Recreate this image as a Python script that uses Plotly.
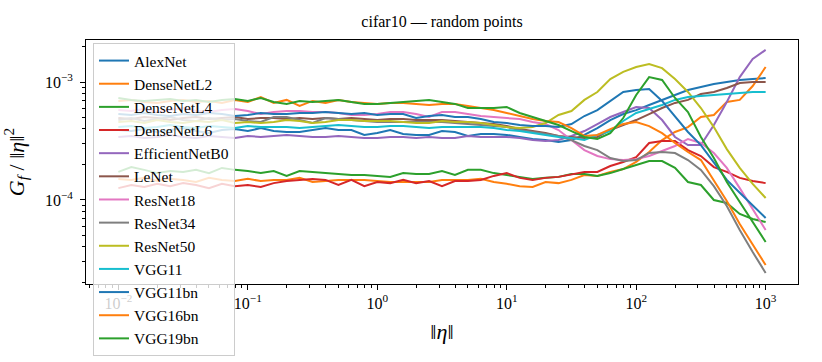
import plotly.graph_objects as go

# ---- data (values of G_f/||eta||^2 in units of 1e-4) ----
UNIT = 1e-4

ETA = [0.01, 0.01259, 0.01585, 0.01995, 0.02512, 0.03162, 0.03981, 0.05012, 0.0631, 0.07943,
       0.1, 0.1259, 0.1585, 0.1995, 0.2512, 0.3162, 0.3981, 0.5012, 0.631, 0.7943,
       1.0, 1.259, 1.585, 1.995, 2.512, 3.162, 3.981, 5.012, 6.31, 7.943,
       10.0, 12.59, 15.85, 19.95, 25.12, 31.62, 39.81, 50.12, 63.1, 79.43,
       100.0, 125.9, 158.5, 199.5, 251.2, 316.2, 398.1, 501.2, 631.0, 794.3, 1000.0]

ALEXNET = [3.92, 3.84, 3.99, 3.77, 3.92, 4.07, 3.84, 3.69, 3.92, 3.99,
           3.84, 4.07, 3.84, 3.77, 3.77, 3.92, 4.07, 3.92, 3.92, 3.56,
           3.69, 3.92, 3.62, 3.56, 3.56, 3.84, 3.77, 3.49, 3.62, 3.62,
           3.56, 3.42, 3.29, 3.22, 3.10, 3.22, 3.56, 4.07, 4.76, 5.35,
           5.78, 6.38, 7.05, 7.76, 8.55, 9.07, 9.62, 10.0, 10.4, 10.6, 10.8]
DENSENET_L2 = [1.51, 1.48, 1.54, 1.45, 1.51, 1.48, 1.42, 1.54, 1.48, 1.45,
               1.51, 1.45, 1.48, 1.48, 1.54, 1.42, 1.45, 1.48, 1.48, 1.48,
               1.45, 1.42, 1.42, 1.42, 1.42, 1.48, 1.48, 1.48, 1.51, 1.42,
               1.37, 1.31, 1.29, 1.42, 1.39, 1.48, 1.63, 1.60, 1.73, 1.83,
               2.10, 2.55, 3.22, 3.77, 4.15, 5.05, 5.25, 6.78, 7.05, 9.25, 13.4]
DENSENET_L4 = [1.73, 1.90, 1.80, 1.69, 1.76, 1.73, 1.80, 1.69, 1.87, 1.80,
               1.76, 1.69, 1.76, 1.60, 1.76, 1.73, 1.69, 1.66, 1.63, 1.63,
               1.60, 1.57, 1.69, 1.66, 1.66, 1.76, 1.63, 1.80, 1.80, 1.69,
               1.63, 1.57, 1.51, 1.54, 1.57, 1.66, 1.66, 1.60, 1.69, 1.83,
               1.98, 2.14, 2.14, 1.87, 1.42, 1.34, 1.00, 0.943, 0.761, 0.690, 0.651]
DENSENET_L6 = [1.26, 1.34, 1.29, 1.37, 1.31, 1.39, 1.34, 1.26, 1.37, 1.31,
               1.34, 1.29, 1.39, 1.45, 1.48, 1.51, 1.48, 1.34, 1.48, 1.31,
               1.42, 1.39, 1.48, 1.39, 1.45, 1.31, 1.45, 1.45, 1.48, 1.60,
               1.69, 1.54, 1.48, 1.54, 1.57, 1.66, 1.73, 1.73, 1.94, 2.10,
               2.31, 3.04, 3.16, 3.16, 2.65, 2.36, 1.90, 1.73, 1.54, 1.45, 1.39]
EFFICIENTNET_B0 = [3.42, 3.49, 3.36, 3.42, 3.56, 3.42, 3.36, 3.49, 3.42, 3.36,
                   3.49, 3.42, 3.49, 3.56, 3.49, 3.42, 3.42, 3.49, 3.42, 3.36,
                   3.36, 3.42, 3.42, 3.36, 3.42, 3.36, 3.36, 3.49, 3.42, 3.42,
                   3.42, 3.36, 3.22, 3.16, 3.22, 3.49, 3.84, 4.40, 5.05, 5.57,
                   6.14, 6.02, 4.76, 3.42, 2.92, 2.92, 4.32, 6.78, 11.0, 15.7, 18.7]
LENET = [4.95, 4.85, 5.05, 4.95, 4.76, 4.95, 5.05, 4.85, 4.95, 5.05,
         4.85, 4.95, 4.95, 4.85, 4.95, 4.85, 4.95, 4.85, 4.95, 4.85,
         4.76, 4.85, 4.85, 4.76, 4.76, 4.76, 4.67, 4.58, 4.49, 4.40,
         4.23, 3.99, 3.84, 3.69, 3.49, 3.42, 3.36, 3.42, 3.92, 4.32,
         4.76, 5.35, 6.02, 6.65, 7.05, 7.92, 8.23, 8.89, 9.81, 10.0, 10.0]
RESNET18 = [5.78, 5.67, 5.90, 5.57, 5.78, 6.02, 5.67, 5.57, 5.78, 5.90,
            5.67, 5.35, 5.57, 5.67, 5.67, 5.57, 5.57, 5.46, 5.25, 5.25,
            5.35, 5.57, 5.57, 5.35, 5.05, 5.57, 5.57, 5.35, 5.15, 5.05,
            4.95, 4.85, 4.58, 4.40, 3.92, 3.22, 2.65, 2.36, 2.22, 2.18,
            2.22, 2.36, 2.60, 2.87, 3.29, 3.04, 2.50, 1.87, 1.26, 0.839, 0.557]
RESNET34 = [4.76, 4.95, 4.67, 4.85, 5.05, 4.76, 4.67, 4.95, 4.76, 4.85,
            4.67, 4.58, 5.05, 5.05, 4.76, 4.49, 4.95, 4.85, 4.76, 4.67,
            4.58, 4.58, 4.58, 4.58, 4.58, 4.58, 4.49, 4.40, 4.32, 4.23,
            4.15, 3.92, 3.77, 3.62, 3.49, 3.22, 2.87, 2.65, 2.27, 2.14,
            2.18, 2.50, 2.55, 2.50, 2.18, 1.80, 1.31, 0.89, 0.557, 0.362, 0.241]
RESNET50 = [4.58, 4.67, 4.49, 4.76, 4.58, 4.49, 4.67, 4.58, 4.76, 4.49,
            4.58, 4.49, 4.58, 4.76, 4.67, 4.49, 4.58, 4.76, 4.76, 4.67,
            4.67, 4.67, 4.58, 4.49, 4.49, 4.67, 4.58, 4.58, 4.49, 4.32,
            4.15, 4.07, 4.15, 4.49, 5.25, 5.67, 7.05, 8.23, 10.6, 12.2,
            13.4, 14.2, 13.1, 10.6, 8.23, 6.02, 4.15, 2.70, 1.87, 1.37, 1.04]
VGG11 = [4.15, 4.23, 4.07, 4.15, 4.32, 4.15, 4.07, 4.23, 4.15, 4.07,
         4.23, 4.15, 4.15, 4.15, 4.07, 4.15, 4.23, 4.32, 4.23, 4.15,
         4.15, 4.23, 4.23, 4.15, 4.07, 4.15, 4.15, 4.15, 4.15, 4.07,
         3.92, 3.84, 3.69, 3.56, 3.42, 3.36, 3.22, 3.56, 3.84, 4.67,
         5.46, 5.90, 6.38, 7.05, 7.46, 7.61, 7.76, 7.91, 8.07, 8.23, 8.23]
VGG11BN = [5.35, 5.25, 5.46, 5.25, 5.15, 5.35, 5.25, 5.46, 5.35, 5.15,
           5.25, 5.46, 5.35, 5.35, 5.46, 5.46, 5.57, 5.46, 5.35, 5.46,
           5.25, 5.35, 5.35, 4.95, 5.15, 5.25, 5.05, 5.05, 4.85, 4.58,
           4.49, 4.32, 4.23, 4.23, 4.15, 4.40, 5.15, 5.78, 6.91, 8.23,
           8.55, 8.72, 6.91, 5.05, 3.77, 2.92, 2.06, 1.48, 1.15, 0.907, 0.704]
VGG16BN = [6.91, 7.05, 6.78, 6.65, 6.91, 7.05, 6.78, 6.91, 6.65, 7.05,
           6.78, 7.46, 6.65, 7.05, 6.26, 6.91, 6.65, 7.05, 6.78, 6.65,
           6.52, 6.65, 6.65, 6.52, 6.38, 6.52, 6.52, 6.26, 6.02, 5.78,
           5.46, 5.15, 4.85, 4.67, 4.58, 4.07, 3.49, 3.56, 3.99, 4.40,
           4.58, 4.23, 3.69, 3.04, 2.55, 2.18, 1.45, 0.98, 0.626, 0.416, 0.281]
VGG19BN = [7.32, 7.05, 6.91, 7.05, 7.18, 6.91, 7.05, 6.78, 7.05, 7.18,
           6.91, 7.32, 6.78, 6.52, 6.91, 6.78, 6.91, 7.05, 6.78, 6.52,
           6.52, 6.65, 6.78, 6.91, 7.05, 6.78, 6.52, 6.02, 6.02, 6.02,
           6.14, 5.46, 5.05, 4.67, 4.32, 3.84, 3.42, 3.29, 3.69, 4.95,
           7.76, 11.0, 10.4, 7.32, 5.57, 3.42, 2.27, 1.42, 0.962, 0.651, 0.441]

MODELS = ["AlexNet", "DenseNetL2", "DenseNetL4", "DenseNetL6", "EfficientNetB0", "LeNet",
          "ResNet18", "ResNet34", "ResNet50", "VGG11", "VGG11bn", "VGG16bn", "VGG19bn"]
SERIES = [ALEXNET, DENSENET_L2, DENSENET_L4, DENSENET_L6, EFFICIENTNET_B0, LENET,
          RESNET18, RESNET34, RESNET50, VGG11, VGG11BN, VGG16BN, VGG19BN]

X_TICKS = [0.01, 0.1, 1, 10, 100, 1000]
X_TICK_TEXT = ["10<sup>−2</sup>", "10<sup>−1</sup>", "10<sup>0</sup>",
               "10<sup>1</sup>", "10<sup>2</sup>", "10<sup>3</sup>"]
Y_TICKS = [1e-4, 1e-3]
Y_TICK_TEXT = ["10<sup>−4</sup>", "10<sup>−3</sup>"]

TAB10 = ["#1f77b4", "#ff7f0e", "#2ca02c", "#d62728", "#9467bd",
         "#8c564b", "#e377c2", "#7f7f7f", "#bcbd22", "#17becf"]

FONT = "Liberation Serif"

fig = go.Figure()
for k, (name, vals) in enumerate(zip(MODELS, SERIES)):
    fig.add_trace(go.Scatter(
        x=ETA, y=[v * UNIT for v in vals], mode="lines", name=name,
        line=dict(color=TAB10[k % 10], width=2),
    ))

x_minor = [m * 10.0 ** d for d in range(-3, 4) for m in range(2, 10)]
y_minor = [m * 10.0 ** d for d in range(-6, -1) for m in range(2, 10)]

axis_common = dict(
    showline=True, linecolor="black", linewidth=1, mirror=True,
    ticks="outside", ticklen=5, tickwidth=1, tickcolor="black",
    showgrid=False, zeroline=False, automargin=False,
    tickfont=dict(family=FONT, size=16, color="black"),
)

fig.update_layout(
    width=822, height=362,
    margin=dict(l=86, r=24, t=40, b=78, autoexpand=False),
    paper_bgcolor="white", plot_bgcolor="white",
    font=dict(family=FONT, color="black"),
    title=dict(text="cifar10 — random points", x=0.5, xref="paper", xanchor="center",
               y=1 - 21 / 362, yanchor="middle",
               font=dict(family=FONT, size=16, color="black")),
    xaxis=dict(type="log", range=[-2.25, 3.25], tickmode="array",
               tickvals=X_TICKS, ticktext=X_TICK_TEXT,
               minor=dict(tickvals=x_minor, ticks="outside", ticklen=3, tickcolor="black", showgrid=False),
               title=dict(text="‖<i>η</i>‖", font=dict(family=FONT, size=22), standoff=12),
               **axis_common),
    yaxis=dict(type="log", range=[-4.712, -2.644], tickmode="array",
               tickvals=Y_TICKS, ticktext=Y_TICK_TEXT, ticklabelstandoff=4,
               minor=dict(tickvals=y_minor, ticks="outside", ticklen=3, tickcolor="black", showgrid=False),
               title=dict(text="<i>G</i><sub><i>f</i></sub> / ‖<i>η</i>‖<sup>2</sup>",
                          font=dict(family=FONT, size=22), standoff=14),
               **axis_common),
    legend=dict(x=(93 - 86) / 712, xref="paper", xanchor="left",
                y=(284 - 43) / 244, yref="paper", yanchor="top",
                bgcolor="rgba(255,255,255,0.8)", bordercolor="#cccccc", borderwidth=1,
                font=dict(family=FONT, size=15.5, color="black"),
                maxheight=340),
    showlegend=True,
)

fig.write_html("out.html", config={"displayModeBar": False},
               post_script="document.body.style.margin='0';")
